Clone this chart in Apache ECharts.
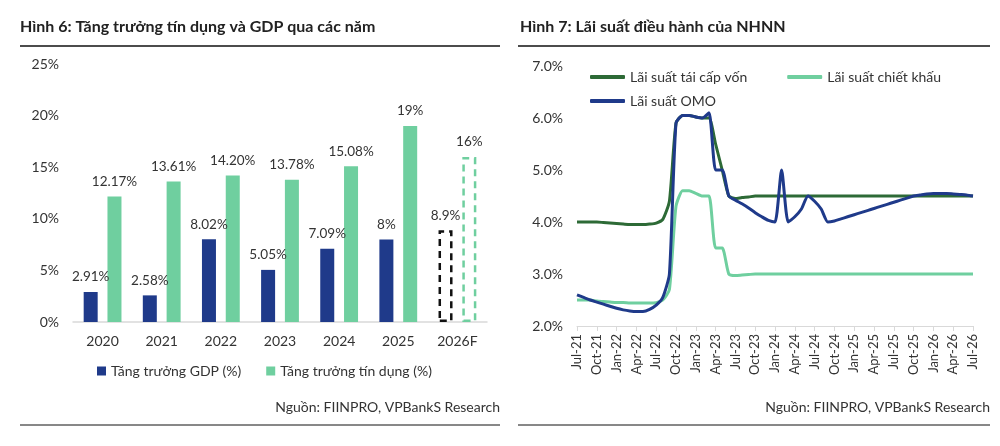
<!DOCTYPE html>
<html>
<head>
<meta charset="utf-8">
<script src="https://cdn.jsdelivr.net/npm/echarts@6/dist/echarts.min.js"></script>
<style>
	html, body { margin: 0; padding: 0; background: #fff; }
	#main { width: 1000px; height: 446px; }
</style>
</head>
<body>
<div id="main"></div>
<script>
	// Hình 6
	var years = [ '2020', '2021', '2022', '2023', '2024', '2025', '2026F' ];
	var gdp = [ 2.91, 2.58, 8.02, 5.05, 7.09, 8, 8.9 ];
	var gdpLabels = [ '2.91%', '2.58%', '8.02%', '5.05%', '7.09%', '8%', '8.9%' ];
	var credit = [ 12.17, 13.61, 14.2, 13.78, 15.08, 19, 16 ];
	var creditLabels = [ '12.17%', '13.61%', '14.20%', '13.78%', '15.08%', '19%', '16%' ];

	// Hình 7 (monthly, Jul-21 .. Jul-26)
	var months = [ 'Jul-21', 'Aug-21', 'Sep-21', 'Oct-21', 'Nov-21', 'Dec-21', 'Jan-22', 'Feb-22', 'Mar-22', 'Apr-22', 'May-22', 'Jun-22',
		'Jul-22', 'Aug-22', 'Sep-22', 'Oct-22', 'Nov-22', 'Dec-22', 'Jan-23', 'Feb-23', 'Mar-23', 'Apr-23', 'May-23', 'Jun-23',
		'Jul-23', 'Aug-23', 'Sep-23', 'Oct-23', 'Nov-23', 'Dec-23', 'Jan-24', 'Feb-24', 'Mar-24', 'Apr-24', 'May-24', 'Jun-24',
		'Jul-24', 'Aug-24', 'Sep-24', 'Oct-24', 'Nov-24', 'Dec-24', 'Jan-25', 'Feb-25', 'Mar-25', 'Apr-25', 'May-25', 'Jun-25',
		'Jul-25', 'Aug-25', 'Sep-25', 'Oct-25', 'Nov-25', 'Dec-25', 'Jan-26', 'Feb-26', 'Mar-26', 'Apr-26', 'May-26', 'Jun-26', 'Jul-26' ];
	var refinance = [ 4.0, 4.0, 4.0, 4.0, 3.99, 3.98, 3.97, 3.96, 3.95, 3.95, 3.95, 3.96,
		3.98, 4.05, 4.4, 5.9, 6.05, 6.05, 6.02, 6.0, 6.0, 5.5, 5.0, 4.5,
		4.45, 4.47, 4.48, 4.5, 4.5, 4.5, 4.5, 4.5, 4.5, 4.5, 4.5, 4.5,
		4.5, 4.5, 4.5, 4.5, 4.5, 4.5, 4.5, 4.5, 4.5, 4.5, 4.5, 4.5,
		4.5, 4.5, 4.5, 4.5, 4.5, 4.5, 4.5, 4.5, 4.5, 4.5, 4.5, 4.5, 4.5 ];
	var discount = [ 2.5, 2.5, 2.5, 2.48, 2.47, 2.46, 2.45, 2.45, 2.44, 2.44, 2.44, 2.44,
		2.45, 2.5, 2.7, 4.3, 4.6, 4.6, 4.55, 4.5, 4.5, 3.5, 3.5, 3.0,
		2.97, 2.98, 2.99, 3.0, 3.0, 3.0, 3.0, 3.0, 3.0, 3.0, 3.0, 3.0,
		3.0, 3.0, 3.0, 3.0, 3.0, 3.0, 3.0, 3.0, 3.0, 3.0, 3.0, 3.0,
		3.0, 3.0, 3.0, 3.0, 3.0, 3.0, 3.0, 3.0, 3.0, 3.0, 3.0, 3.0, 3.0 ];
	var omo = [ 2.6, 2.55, 2.5, 2.46, 2.42, 2.38, 2.34, 2.31, 2.29, 2.28, 2.28, 2.32,
		2.4, 2.55, 3.0, 5.9, 6.05, 6.05, 6.02, 6.0, 6.1, 5.0, 5.0, 4.5,
		4.42, 4.35, 4.27, 4.18, 4.1, 4.03, 4.0, 5.0, 4.0, 4.1, 4.25, 4.5,
		4.4, 4.25, 4.0, 4.02, 4.06, 4.1, 4.14, 4.18, 4.22, 4.26, 4.3, 4.34,
		4.38, 4.42, 4.46, 4.5, 4.52, 4.54, 4.55, 4.55, 4.55, 4.54, 4.53, 4.52, 4.5 ];

	var font = 'Lato, "Noto Sans", sans-serif';
	var myChart = echarts.init(document.getElementById('main'));

	function dashed(color) {
		return { color: 'transparent', borderColor: color, borderWidth: 2.5, borderType: [ 7, 5 ] };
	}
	var gdpData = gdp.map(function(v, i) {
		return i === 6 ? { value: v, itemStyle: dashed('#111') } : v;
	});
	var creditData = credit.map(function(v, i) {
		return i === 6 ? { value: v, itemStyle: dashed('#6fcf9f') } : v;
	});

	var option = {
		animation: false,
		textStyle: { fontFamily: font },
		graphic: [
			{ type: 'text', left: 20, top: 19, style: { text: 'Hình 6: Tăng trưởng tín dụng và GDP qua các năm', font: 'bold 16px ' + font, fill: '#222' } },
			{ type: 'text', left: 520, top: 19, style: { text: 'Hình 7: Lãi suất điều hành của NHNN', font: 'bold 16px ' + font, fill: '#222' } },
			{ type: 'line', shape: { x1: 20, y1: 46, x2: 500, y2: 46 }, style: { stroke: '#111', lineWidth: 1.5 } },
			{ type: 'line', shape: { x1: 518, y1: 46, x2: 990, y2: 46 }, style: { stroke: '#111', lineWidth: 1.5 } },
			{ type: 'line', shape: { x1: 20, y1: 425, x2: 500, y2: 425 }, style: { stroke: '#111', lineWidth: 1 } },
			{ type: 'line', shape: { x1: 518, y1: 425, x2: 990, y2: 425 }, style: { stroke: '#111', lineWidth: 1 } },
			{ type: 'text', right: 500, top: 400, style: { text: 'Nguồn: FIINPRO, VPBankS Research', font: '14px ' + font, fill: '#333', textAlign: 'right' } },
			{ type: 'text', right: 10, top: 400, style: { text: 'Nguồn: FIINPRO, VPBankS Research', font: '14px ' + font, fill: '#333', textAlign: 'right' } }
		],
		legend: [ {
			data: [ 'Tăng trưởng GDP (%)', 'Tăng trưởng tín dụng (%)' ],
			left: 92, top: 359, itemWidth: 9, itemHeight: 9, itemGap: 25, icon: 'rect',
			textStyle: { fontSize: 14, color: '#333' }
		}, {
			data: [ 'Lãi suất tái cấp vốn', 'Lãi suất chiết khấu' ],
			left: 585, top: 65, itemWidth: 35, itemHeight: 4, itemGap: 40, icon: 'roundRect',
			textStyle: { fontSize: 14, color: '#333' }
		}, {
			data: [ 'Lãi suất OMO' ],
			left: 585, top: 89, itemWidth: 35, itemHeight: 4, icon: 'roundRect',
			textStyle: { fontSize: 14, color: '#333' }
		} ],
		grid: [
			{ left: 73, right: 513, top: 64, bottom: 124 },
			{ left: 577, right: 27, top: 66, bottom: 120 }
		],
		xAxis: [ {
			type: 'category', gridIndex: 0, data: years,
			axisLine: { lineStyle: { color: '#d9d9d9', width: 1.5 } },
			axisTick: { show: false },
			axisLabel: { fontSize: 14, color: '#333', margin: 12 }
		}, {
			type: 'category', gridIndex: 1, data: months, boundaryGap: false,
			axisLine: { lineStyle: { color: '#d9d9d9' } },
			axisTick: { interval: 2, lineStyle: { color: '#d9d9d9' } },
			axisLabel: { interval: 2, rotate: 90, fontSize: 13, color: '#333' }
		} ],
		yAxis: [ {
			type: 'value', gridIndex: 0, min: 0, max: 25, interval: 5,
			splitLine: { show: false },
			axisLabel: { formatter: '{value}%', fontSize: 14, color: '#333', margin: 14 }
		}, {
			type: 'value', gridIndex: 1, min: 2, max: 7, interval: 1,
			splitLine: { show: false },
			axisLabel: { formatter: function(v) { return v.toFixed(1) + '%'; }, fontSize: 14, color: '#333', margin: 14 }
		} ],
		series: [ {
			name: 'Tăng trưởng GDP (%)', type: 'bar', xAxisIndex: 0, yAxisIndex: 0,
			data: gdpData, barWidth: 14, barGap: '70%',
			itemStyle: { color: '#1f3a8a' },
			label: { show: true, position: 'top', distance: 8, fontSize: 13.5, color: '#333',
				formatter: function(p) { return gdpLabels[p.dataIndex]; } }
		}, {
			name: 'Tăng trưởng tín dụng (%)', type: 'bar', xAxisIndex: 0, yAxisIndex: 0,
			data: creditData, barWidth: 14,
			itemStyle: { color: '#6fcf9f' },
			label: { show: true, position: 'top', distance: 8, fontSize: 13.5, color: '#333',
				formatter: function(p) { return creditLabels[p.dataIndex]; } }
		}, {
			name: 'Lãi suất tái cấp vốn', type: 'line', xAxisIndex: 1, yAxisIndex: 1,
			data: refinance, symbol: 'none', smooth: 0.2,
			lineStyle: { color: '#2d6a36', width: 3 }, itemStyle: { color: '#2d6a36' }
		}, {
			name: 'Lãi suất chiết khấu', type: 'line', xAxisIndex: 1, yAxisIndex: 1,
			data: discount, symbol: 'none', smooth: 0.2,
			lineStyle: { color: '#6fcf9f', width: 3 }, itemStyle: { color: '#6fcf9f' }
		}, {
			name: 'Lãi suất OMO', type: 'line', xAxisIndex: 1, yAxisIndex: 1,
			data: omo, symbol: 'none', smooth: 0.2,
			lineStyle: { color: '#1f3a8a', width: 3 }, itemStyle: { color: '#1f3a8a' }
		} ]
	};

	myChart.setOption(option);
</script>
</body>
</html>
